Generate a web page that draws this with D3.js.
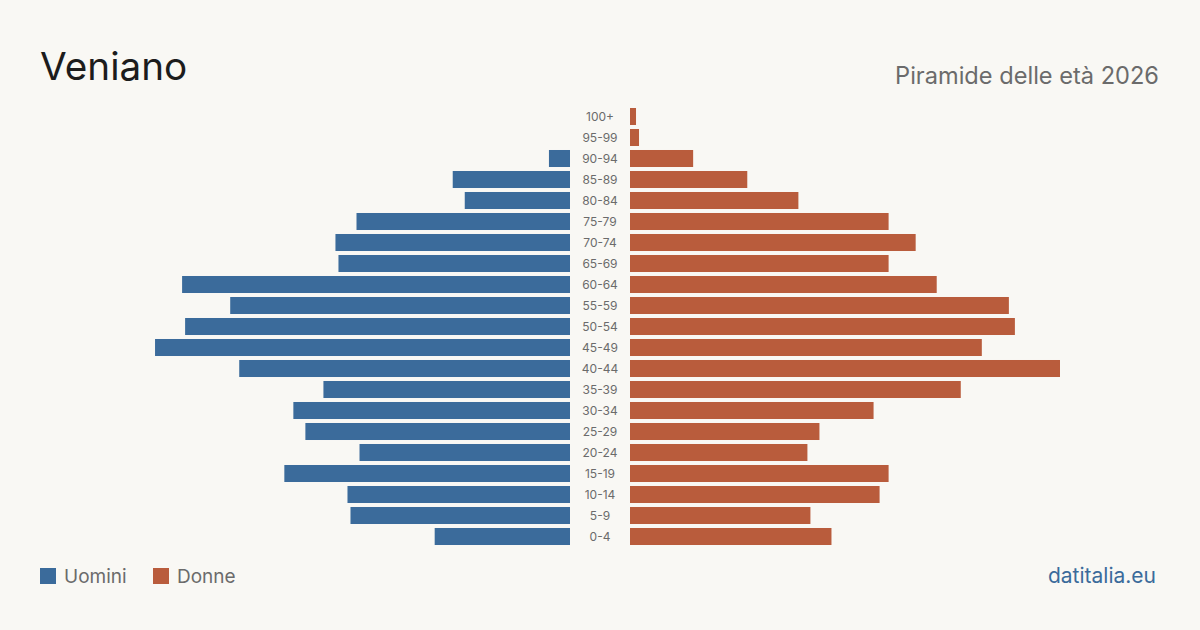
<!DOCTYPE html>
<html>
<head>
<meta charset="utf-8">
<script src="https://cdn.jsdelivr.net/npm/d3@7"></script>
<style>
  html, body { margin: 0; padding: 0; background: #f9f8f4; }
  svg { display: block; font-family: Inter, "Noto Sans", sans-serif; }
</style>
</head>
<body>
<svg id="canvas"></svg>
<script>
var width = 1200,
  height = 630;

// age classes, top to bottom
var ageGroups = ['100+', '95-99', '90-94', '85-89', '80-84', '75-79', '70-74', '65-69',
  '60-64', '55-59', '50-54', '45-49', '40-44', '35-39', '30-34', '25-29',
  '20-24', '15-19', '10-14', '5-9', '0-4'];
var men = [0, 0, 7, 39, 35, 71, 78, 77, 129, 113, 128, 138, 110, 82, 92, 88, 70, 95, 74, 73, 45];
var women = [2, 3, 21, 39, 56, 86, 95, 86, 102, 126, 128, 117, 143, 110, 81, 63, 59, 86, 83, 60, 67];
var legendLabels = ['Uomini', 'Donne'];

var colors = {men: '#3b6b9b', women: '#b95c3c'};

function draw() {
  var canvas, x, y, maxVal, centerL = 570, centerR = 630;

  canvas = d3.select('#canvas')
    .attr('width', width)
    .attr('height', height);

  canvas.append('rect')
    .attr('width', width)
    .attr('height', height)
    .attr('fill', '#f9f8f4');

  maxVal = d3.max(men.concat(women));

  x = d3.scaleLinear()
    .domain([0, maxVal])
    .range([0, 430]);

  y = d3.scaleBand()
    .domain(ageGroups)
    .range([106, 547])
    .paddingInner(0.19)
    .paddingOuter(0.095);

  // TITLE
  canvas.append('text')
    .attr('x', 40)
    .attr('y', 80)
    .attr('fill', '#1c1c1c')
    .style('font-size', '38.7px')
    .text('Veniano');

  canvas.append('text')
    .attr('x', 1159)
    .attr('y', 84)
    .attr('text-anchor', 'end')
    .attr('fill', '#6b6b6b')
    .style('font-size', '23.6px')
    .text('Piramide delle età 2026');

  // BARS
  canvas.append('g')
    .selectAll('rect')
    .data(men)
    .enter()
    .append('rect')
    .attr('x', function(d) { return centerL - x(d); })
    .attr('y', function(d, i) { return y(ageGroups[i]); })
    .attr('width', function(d) { return x(d); })
    .attr('height', y.bandwidth())
    .attr('fill', colors.men);

  canvas.append('g')
    .selectAll('rect')
    .data(women)
    .enter()
    .append('rect')
    .attr('x', centerR)
    .attr('y', function(d, i) { return y(ageGroups[i]); })
    .attr('width', function(d) { return x(d); })
    .attr('height', y.bandwidth())
    .attr('fill', colors.women);

  // AGE LABELS
  canvas.append('g')
    .selectAll('text')
    .data(ageGroups)
    .enter()
    .append('text')
    .attr('x', 600)
    .attr('y', function(d) { return y(d) + y.bandwidth() / 2; })
    .attr('dy', '0.35em')
    .attr('text-anchor', 'middle')
    .attr('fill', '#6b6b6b')
    .style('font-size', '12px')
    .text(function(d) { return d; });

  // LEGEND
  var legend = canvas.append('g')
    .selectAll('g')
    .data(legendLabels)
    .enter()
    .append('g')
    .attr('transform', function(d, i) { return 'translate(' + (40 + i * 113) + ',568)'; });

  legend.append('rect')
    .attr('width', 16)
    .attr('height', 16)
    .attr('fill', function(d, i) { return i === 0 ? colors.men : colors.women; });

  legend.append('text')
    .attr('x', 24)
    .attr('y', 8)
    .attr('dy', '0.35em')
    .attr('fill', '#6b6b6b')
    .style('font-size', '19px')
    .text(function(d) { return d; });

  canvas.append('text')
    .attr('x', 1156)
    .attr('y', 583)
    .attr('text-anchor', 'end')
    .attr('fill', colors.men)
    .style('font-size', '21px')
    .text('datitalia.eu');
}

window.onload = draw;
</script>
</body>
</html>
